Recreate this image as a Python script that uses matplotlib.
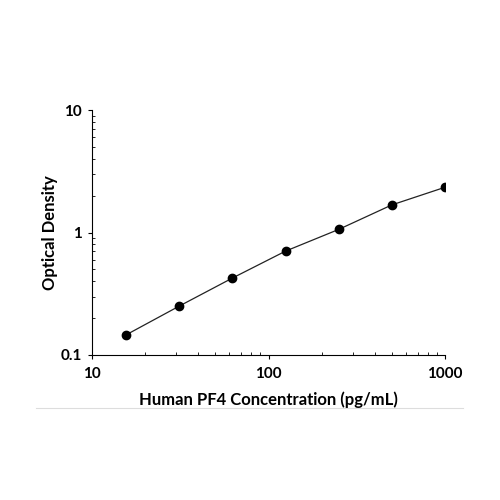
import matplotlib.pyplot as plt
from matplotlib.lines import Line2D
from matplotlib.ticker import FixedLocator, FixedFormatter, LogLocator, NullFormatter

# standard curve data
concentration = [15.6, 31.25, 62.5, 125, 250, 500, 1000]
optical_density = [0.146, 0.251, 0.425, 0.705, 1.06, 1.68, 2.34]

x_ticks = [10, 100, 1000]
x_tick_labels = ["10", "100", "1000"]
y_ticks = [0.1, 1, 10]
y_tick_labels = ["0.1", "1", "10"]

plt.rcParams["font.family"] = ["Lato", "DejaVu Sans"]

fig = plt.figure(figsize=(5, 5), dpi=100)
ax = fig.add_axes([0.184, 0.29, 0.706, 0.49])

# curve and points
ax.plot(concentration, optical_density, color="#222222", linewidth=0.9, zorder=2)
ax.plot(concentration, optical_density, linestyle="none", marker="o", markersize=6, color="black", zorder=3)

ax.set_xscale("log")
ax.set_yscale("log")
ax.set_xlim(10, 1000)
ax.set_ylim(0.1, 10)

ax.xaxis.set_major_locator(FixedLocator(x_ticks))
ax.xaxis.set_major_formatter(FixedFormatter(x_tick_labels))
ax.yaxis.set_major_locator(FixedLocator(y_ticks))
ax.yaxis.set_major_formatter(FixedFormatter(y_tick_labels))
ax.xaxis.set_minor_locator(LogLocator(base=10, subs=range(2, 10)))
ax.yaxis.set_minor_locator(LogLocator(base=10, subs=range(2, 10)))
ax.xaxis.set_minor_formatter(NullFormatter())
ax.yaxis.set_minor_formatter(NullFormatter())

ax.tick_params(which="major", direction="out", length=3, width=0.8, labelsize=11, pad=4)
ax.tick_params(axis="x", which="major", pad=6)
ax.tick_params(which="minor", direction="in", length=2.5, width=0.6)
for label in ax.get_xticklabels() + ax.get_yticklabels():
    label.set_fontweight("bold")

ax.spines["top"].set_visible(False)
ax.spines["right"].set_visible(False)
ax.spines["left"].set_linewidth(0.8)
ax.spines["bottom"].set_linewidth(0.8)

ax.set_xlabel("Human PF4 Concentration (pg/mL)", fontsize=12, fontweight="bold", labelpad=7)
ax.set_ylabel("Optical Density", fontsize=12, fontweight="bold", labelpad=2)

# thin grey separator under the chart
fig.add_artist(Line2D([0.072, 0.926], [0.184, 0.184], transform=fig.transFigure, color="#dddddd", linewidth=0.8))

fig.set_facecolor("white")
plt.savefig("out.png", dpi=100)
plt.close()
